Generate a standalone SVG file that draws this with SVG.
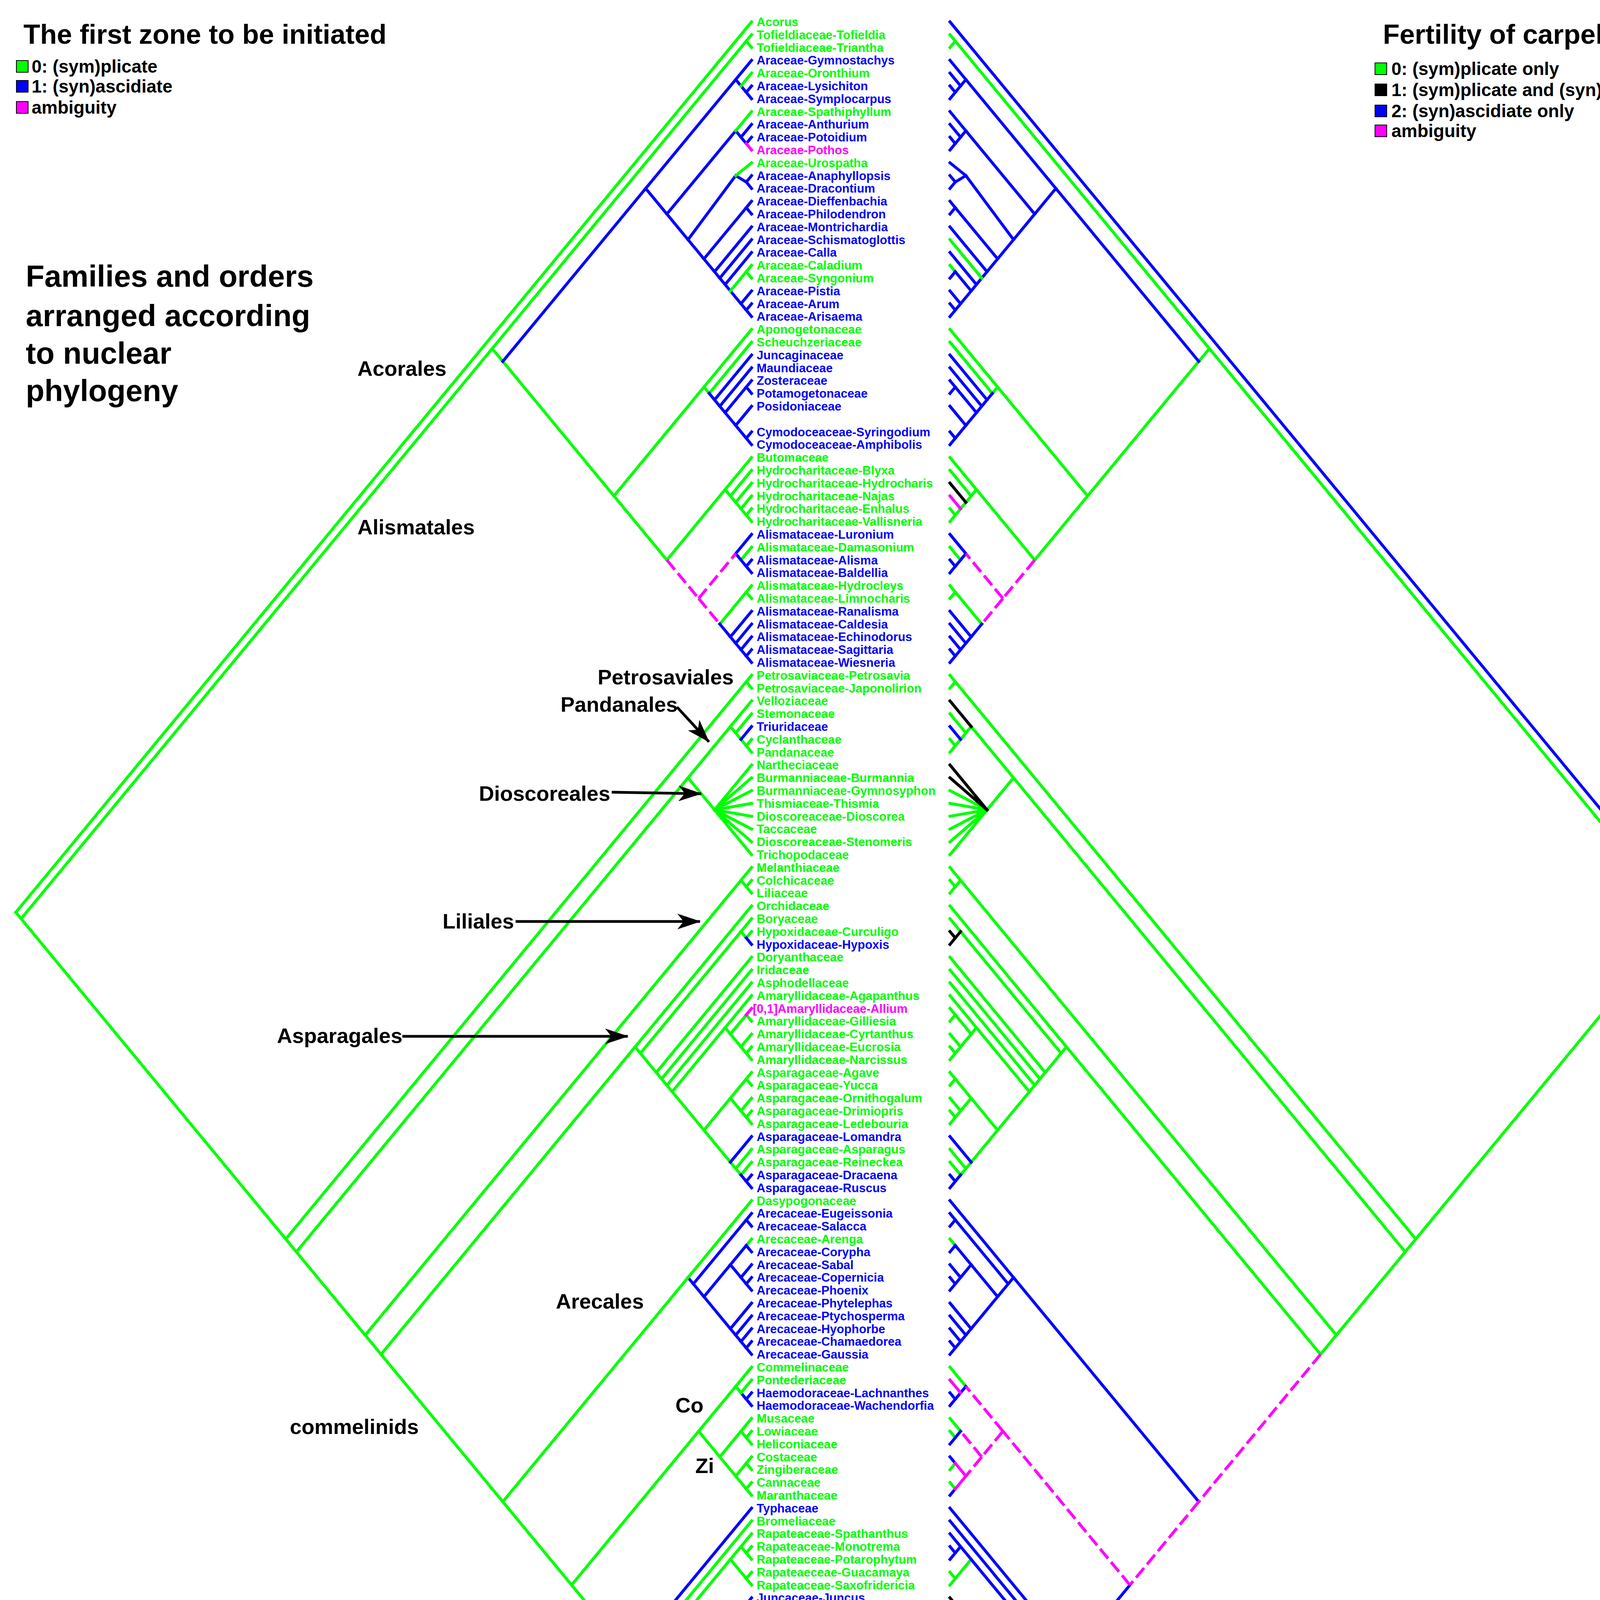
<svg xmlns="http://www.w3.org/2000/svg" xmlns:xlink="http://www.w3.org/1999/xlink" width="4370" height="4664" viewBox="0 0 4370 4664">
<style>
.s{fill:none;stroke-width:7.5;stroke-linecap:square;stroke-linejoin:round}
.d{fill:none;stroke:#ff00ff;stroke-width:7.5;stroke-dasharray:32 12}
.G{stroke:#00ff00}.B{stroke:#0000ff}.M{stroke:#ff00ff}.K{stroke:#000}
text{font-family:"Liberation Sans",Arial,sans-serif;font-weight:bold}
.t{font-size:31px}
.g{fill:#00ff00}.b{fill:#0000ff}.m{fill:#ff00ff}
.o{font-size:54px;fill:#000}
.h{font-size:70px;fill:#000}
.l{font-size:46px;fill:#000}
.f{font-size:78px;fill:#000}
.ar{fill:none;stroke:#000;stroke-width:7}
</style>
<defs>
<marker id="ah" markerUnits="userSpaceOnUse" markerWidth="60" markerHeight="40" refX="58" refY="20" orient="auto"><path d="M0,0 L60,20 L0,40 L16,20 z" fill="#000"/></marker>
<path id="cg" class="s G" d="M40.5 2335.6L54.1 2352M54.1 2352L1260 892.4M54.1 2352L731.6 3172M1260 892.4L1910.5 105.2M1910.5 105.2L1924 88.8M1910.5 105.2L1924 121.6M1260 892.4L1287.2 925.2M1287.2 925.2L1571.7 1269.6M1910.5 695.6L1924 679.2M1571.7 1269.6L1802.1 990.8M1802.1 990.8L1924 843.2M1802.1 990.8L1815.6 1007.2M1815.6 1007.2L1924 876M1571.7 1269.6L1707.2 1433.6M1707.2 1433.6L1856.3 1253.2M1856.3 1253.2L1924 1171.2M1856.3 1253.2L1869.8 1269.6M1869.8 1269.6L1924 1204M1869.8 1269.6L1883.4 1286M1883.4 1286L1896.9 1302.4M1896.9 1302.4L1910.5 1318.8M1910.5 1318.8L1924 1302.4M1910.5 1318.8L1924 1335.2M1896.9 1433.6L1924 1400.8M1842.7 1597.6L1910.5 1515.6M1910.5 1515.6L1924 1499.2M1910.5 1515.6L1924 1532M731.6 3172L1910.5 1745.2M1910.5 1745.2L1924 1728.8M1910.5 1745.2L1924 1761.6M731.6 3172L758.7 3204.8M758.7 3204.8L1761.4 1991.2M1761.4 1991.2L1869.8 1860M1869.8 1860L1883.4 1876.4M1883.4 1876.4L1924 1827.2M1883.4 1876.4L1896.9 1892.8M1896.9 1892.8L1910.5 1909.2M1910.5 1909.2L1924 1892.8M1910.5 1909.2L1924 1925.6M1761.4 1991.2L1829.2 2073.2M1829.2 2073.2L1924 2024M1829.2 2073.2L1924 2056.8M1829.2 2073.2L1924 2089.6M1829.2 2073.2L1924 2122.4M1829.2 2073.2L1924 2155.2M1829.2 2073.2L1924 2188M758.7 3204.8L934.9 3418M934.9 3418L1896.9 2253.6M1896.9 2253.6L1924 2220.8M1896.9 2253.6L1910.5 2270M1910.5 2270L1924 2253.6M1910.5 2270L1924 2286.4M934.9 3418L975.5 3467.2M975.5 3467.2L1625.9 2680M1625.9 2680L1924 2319.2M1625.9 2680L1639.5 2696.4M1639.5 2696.4L1896.9 2384.8M1896.9 2384.8L1924 2352M1639.5 2696.4L1680.1 2745.6M1680.1 2745.6L1924 2450.4M1680.1 2745.6L1693.7 2762M1693.7 2762L1924 2483.2M1693.7 2762L1707.2 2778.4M1707.2 2778.4L1924 2516M1707.2 2778.4L1720.8 2794.8M1720.8 2794.8L1856.3 2630.8M1856.3 2630.8L1924 2548.8M1856.3 2630.8L1869.8 2647.2M1869.8 2647.2L1910.5 2598M1910.5 2598L1924 2614.4M1869.8 2647.2L1896.9 2680M1896.9 2680L1924 2647.2M1896.9 2680L1910.5 2696.4M1910.5 2696.4L1924 2680M1910.5 2696.4L1924 2712.8M1720.8 2794.8L1802.1 2893.2M1802.1 2893.2L1869.8 2811.2M1869.8 2811.2L1910.5 2762M1910.5 2762L1924 2745.6M1910.5 2762L1924 2778.4M1869.8 2811.2L1896.9 2844M1896.9 2844L1924 2811.2M1896.9 2844L1910.5 2860.4M1910.5 2860.4L1924 2844M1910.5 2860.4L1924 2876.8M1802.1 2893.2L1869.8 2975.2M1869.8 2975.2L1883.4 2991.6M1883.4 2991.6L1924 2942.4M1883.4 2991.6L1896.9 3008M1896.9 3008L1924 2975.2M1910.5 3188.4L1924 3172M1883.4 3549.2L1924 3500M1896.9 3664L1924 3631.2M1910.5 3680.4L1924 3664M1910.5 3746L1924 3762.4M1910.5 3811.6L1924 3795.2M1869.8 3992L1910.5 4041.2M1910.5 4041.2L1924 4024.8M1910.5 4041.2L1924 4057.6M1761.4 4418.4L1924 4221.6M1910.5 4336.4L1924 4352.8"/>
<path id="cb" class="s B" d="M1287.2 925.2L1653 482.4M1653 482.4L1883.4 203.6M1883.4 203.6L1924 154.4M1883.4 203.6L1896.9 220M1896.9 220L1910.5 236.4M1910.5 236.4L1924 220M1910.5 236.4L1924 252.8M1653 482.4L1707.2 548M1707.2 548L1883.4 334.8M1883.4 334.8L1896.9 351.2M1896.9 351.2L1924 318.4M1896.9 351.2L1910.5 367.6M1910.5 367.6L1924 351.2M1707.2 548L1761.4 613.6M1761.4 613.6L1883.4 449.6M1883.4 449.6L1910.5 466M1910.5 466L1924 449.6M1910.5 466L1924 482.4M1761.4 613.6L1802.1 662.8M1802.1 662.8L1910.5 531.6M1910.5 531.6L1924 515.2M1910.5 531.6L1924 548M1802.1 662.8L1829.2 695.6M1829.2 695.6L1924 580.8M1829.2 695.6L1842.7 712M1842.7 712L1856.3 728.4M1856.3 728.4L1924 646.4M1856.3 728.4L1869.8 744.8M1869.8 744.8L1896.9 777.6M1896.9 777.6L1924 744.8M1896.9 777.6L1910.5 794M1910.5 794L1924 777.6M1910.5 794L1924 810.4M1815.6 1007.2L1829.2 1023.6M1829.2 1023.6L1924 908.8M1829.2 1023.6L1842.7 1040M1842.7 1040L1924 941.6M1842.7 1040L1856.3 1056.4M1856.3 1056.4L1910.5 990.8M1910.5 990.8L1924 974.4M1910.5 990.8L1924 1007.2M1856.3 1056.4L1883.4 1089.2M1883.4 1089.2L1924 1040M1883.4 1089.2L1910.5 1122M1910.5 1122L1924 1105.6M1910.5 1122L1924 1138.4M1883.4 1417.2L1924 1368M1883.4 1417.2L1896.9 1433.6M1896.9 1433.6L1910.5 1450M1910.5 1450L1924 1433.6M1910.5 1450L1924 1466.4M1842.7 1597.6L1869.8 1630.4M1869.8 1630.4L1924 1564.8M1869.8 1630.4L1883.4 1646.8M1883.4 1646.8L1924 1597.6M1883.4 1646.8L1896.9 1663.2M1896.9 1663.2L1924 1630.4M1896.9 1663.2L1910.5 1679.6M1910.5 1679.6L1924 1663.2M1910.5 1679.6L1924 1696M1896.9 1892.8L1924 1860M1869.8 2975.2L1924 2909.6M1896.9 3008L1910.5 3024.4M1910.5 3024.4L1924 3008M1910.5 3024.4L1924 3040.8M1761.4 3270.4L1775 3286.8M1775 3286.8L1910.5 3122.8M1910.5 3122.8L1924 3106.4M1910.5 3122.8L1924 3139.2M1775 3286.8L1802.1 3319.6M1802.1 3319.6L1869.8 3237.6M1869.8 3237.6L1910.5 3188.4M1910.5 3188.4L1924 3204.8M1869.8 3237.6L1896.9 3270.4M1896.9 3270.4L1924 3237.6M1896.9 3270.4L1910.5 3286.8M1910.5 3286.8L1924 3270.4M1910.5 3286.8L1924 3303.2M1802.1 3319.6L1869.8 3401.6M1869.8 3401.6L1924 3336M1869.8 3401.6L1883.4 3418M1883.4 3418L1924 3368.8M1883.4 3418L1896.9 3434.4M1896.9 3434.4L1924 3401.6M1896.9 3434.4L1910.5 3450.8M1910.5 3450.8L1924 3434.4M1910.5 3450.8L1924 3467.2M1896.9 3565.6L1910.5 3582M1910.5 3582L1924 3565.6M1910.5 3582L1924 3598.4M1612.4 4238L1924 3860.8M1707.2 4352.8L1883.4 4139.6M1883.4 4139.6L1910.5 4106.8M1910.5 4106.8L1924 4123.2M1883.4 4139.6L1910.5 4172.4M1910.5 4172.4L1924 4156M1761.4 4418.4L1775 4434.8M1775 4434.8L1883.4 4303.6M1883.4 4303.6L1924 4254.4M1883.4 4303.6L1896.9 4320M1775 4434.8L1829.2 4500.4M1829.2 4500.4L1896.9 4418.4M1896.9 4418.4L1924 4385.6M1896.9 4418.4L1910.5 4434.8M1910.5 4434.8L1924 4451.2M1829.2 4500.4L1869.8 4549.6M1869.8 4549.6L1910.5 4500.4M1910.5 4500.4L1924 4484M1910.5 4500.4L1924 4516.8M1869.8 4549.6L1896.9 4582.4M1896.9 4582.4L1924 4549.6M1896.9 4582.4L1910.5 4598.8M1910.5 4598.8L1924 4582.4M1910.5 4598.8L1924 4615.2"/>
<path id="cd" class="d" d="M1707.2 1433.6L1788.5 1532M1788.5 1532L1883.4 1417.2M1788.5 1532L1842.7 1597.6"/>
</defs>
<rect width="4370" height="4664" fill="#fff"/>

<g id="legend-left">
<text class="h" x="60" y="112">The first zone to be initiated</text>
<rect x="42" y="155" width="30" height="30" fill="#00ff00" stroke="#000" stroke-width="2"/>
<text class="l" x="81" y="186">0: (sym)plicate</text>
<rect x="42" y="206" width="30" height="30" fill="#0000ff" stroke="#000" stroke-width="2"/>
<text class="l" x="81" y="237">1: (syn)ascidiate</text>
<rect x="42" y="260" width="30" height="30" fill="#ff00ff" stroke="#000" stroke-width="2"/>
<text class="l" x="81" y="291">ambiguity</text>
</g>
<g id="legend-right">
<text class="h" x="4322" y="112" text-anchor="end">Fertility of carpel zones</text>
<rect x="3520" y="161" width="30" height="30" fill="#00ff00" stroke="#000" stroke-width="2"/>
<text class="l" x="3562" y="192">0: (sym)plicate only</text>
<rect x="3520" y="215" width="30" height="30" fill="#000" stroke="#000" stroke-width="2"/>
<text class="l" x="3562" y="246">1: (sym)plicate and (syn)ascidiate</text>
<rect x="3520" y="269" width="30" height="30" fill="#0000ff" stroke="#000" stroke-width="2"/>
<text class="l" x="3562" y="300">2: (syn)ascidiate only</text>
<rect x="3520" y="320" width="30" height="30" fill="#ff00ff" stroke="#000" stroke-width="2"/>
<text class="l" x="3562" y="351">ambiguity</text>
</g>
<g id="caption">
<text class="f" x="66" y="734">Families and orders</text>
<text class="f" x="66" y="835">arranged according</text>
<text class="f" x="66" y="931">to nuclear</text>
<text class="f" x="66" y="1027">phylogeny</text>
<text class="o" x="619" y="4397">Co = Commelinales</text>
<text class="o" x="619" y="4463">Zi = Zingiberales</text>
</g>

<g id="connectors">
<g id="tree-left">
<use xlink:href="#cg" href="#cg"/>
<use xlink:href="#cb" href="#cb"/>
<use xlink:href="#cd" href="#cd"/>
<path class="s G" d="M40.5 2335.6L1924 56M1896.9 220L1924 187.2M1883.4 334.8L1924 285.6M1883.4 449.6L1924 416.8M1869.8 744.8L1910.5 695.6M1910.5 695.6L1924 712M1883.4 1286L1924 1236.8M1896.9 1302.4L1924 1269.6M1869.8 1860L1924 1794.4M1829.2 2073.2L1924 1958.4M1829.2 2073.2L1924 1991.2M1896.9 2384.8L1910.5 2401.2M1910.5 2401.2L1924 2384.8M975.5 3467.2L1287.2 3844.4M1287.2 3844.4L1761.4 3270.4M1761.4 3270.4L1924 3073.6M1287.2 3844.4L1463.3 4057.6M1463.3 4057.6L1788.5 3664M1788.5 3664L1883.4 3549.2M1883.4 3549.2L1896.9 3565.6M1896.9 3565.6L1924 3532.8M1788.5 3664L1842.7 3729.6M1842.7 3729.6L1896.9 3664M1896.9 3664L1910.5 3680.4M1910.5 3680.4L1924 3696.8M1842.7 3729.6L1883.4 3778.8M1883.4 3778.8L1910.5 3746M1910.5 3746L1924 3729.6M1883.4 3778.8L1910.5 3811.6M1910.5 3811.6L1924 3828M1463.3 4057.6L1612.4 4238M1612.4 4238L1625.9 4254.4M1625.9 4254.4L1924 3893.6M1625.9 4254.4L1639.5 4270.8M1639.5 4270.8L1869.8 3992M1869.8 3992L1896.9 3959.2M1896.9 3959.2L1924 3926.4M1896.9 3959.2L1910.5 3975.6M1910.5 3975.6L1924 3959.2M1910.5 3975.6L1924 3992"/>
<path class="s M" d="M1910.5 367.6L1924 384M1910.5 2598L1924 2581.6M1896.9 4320L1924 4287.2M1910.5 4434.8L1924 4418.4"/>
<path class="s B" d="M1842.7 712L1924 613.6M1910.5 2401.2L1924 2417.6M1910.5 4106.8L1924 4090.4M1910.5 4172.4L1924 4188.8M1896.9 4320L1910.5 4336.4M1910.5 4336.4L1924 4320"/>
<path class="d" d="M1639.5 4270.8L1707.2 4352.8M1707.2 4352.8L1761.4 4418.4"/>
</g>
<g id="tree-right" transform="matrix(-1 0 0 1 4356 0)">
<use xlink:href="#cg" href="#cg"/>
<use xlink:href="#cb" href="#cb"/>
<use xlink:href="#cd" href="#cd"/>
<path class="s B" d="M40.5 2335.6L1924 56M1896.9 220L1924 187.2M1883.4 334.8L1924 285.6M1910.5 367.6L1924 384M1883.4 449.6L1924 416.8M1869.8 744.8L1910.5 695.6M1910.5 695.6L1924 712M1287.2 3844.4L1761.4 3270.4M1761.4 3270.4L1924 3073.6M1883.4 3549.2L1896.9 3565.6M1896.9 3664L1910.5 3680.4M1910.5 3680.4L1924 3696.8M1910.5 3746L1924 3729.6M1910.5 3811.6L1924 3828M1463.3 4057.6L1612.4 4238M1612.4 4238L1625.9 4254.4M1625.9 4254.4L1924 3893.6M1625.9 4254.4L1639.5 4270.8M1639.5 4270.8L1869.8 3992M1869.8 3992L1896.9 3959.2M1896.9 3959.2L1924 3926.4M1896.9 3959.2L1910.5 3975.6M1910.5 3975.6L1924 3959.2M1910.5 3975.6L1924 3992M1639.5 4270.8L1707.2 4352.8M1707.2 4352.8L1761.4 4418.4M1910.5 4434.8L1924 4418.4"/>
<path class="s G" d="M1842.7 712L1924 613.6M1910.5 2598L1924 2581.6"/>
<path class="s K" d="M1883.4 1286L1924 1236.8M1869.8 1860L1924 1794.4M1829.2 2073.2L1924 1958.4M1829.2 2073.2L1924 1991.2M1896.9 2384.8L1910.5 2401.2M1910.5 2401.2L1924 2384.8M1910.5 2401.2L1924 2417.6M1910.5 4106.8L1924 4090.4M1910.5 4172.4L1924 4188.8M1896.9 4320L1924 4287.2M1896.9 4320L1910.5 4336.4M1910.5 4336.4L1924 4320"/>
<path class="s M" d="M1896.9 1302.4L1924 1269.6M1896.9 3565.6L1924 3532.8M1883.4 3778.8L1910.5 3746M1883.4 3778.8L1910.5 3811.6"/>
<path class="d" d="M975.5 3467.2L1287.2 3844.4M1287.2 3844.4L1463.3 4057.6M1463.3 4057.6L1788.5 3664M1788.5 3664L1883.4 3549.2M1788.5 3664L1842.7 3729.6M1842.7 3729.6L1896.9 3664M1842.7 3729.6L1883.4 3778.8"/>
</g>
<g id="arrows">
<path class="ar" d="M1733 1810L1815 1899" marker-end="url(#ah)"/>
<path class="ar" d="M1566 2028L1795 2032" marker-end="url(#ah)"/>
<path class="ar" d="M1320 2359L1792 2359" marker-end="url(#ah)"/>
<path class="ar" d="M1030 2653L1607 2653" marker-end="url(#ah)"/>
</g>
</g>

<g id="order-labels">
<text class="o" x="915" y="962">Acorales</text>
<text class="o" x="915" y="1368">Alismatales</text>
<text class="o" x="1530" y="1752">Petrosaviales</text>
<text class="o" x="1435" y="1822">Pandanales</text>
<text class="o" x="1226" y="2050">Dioscoreales</text>
<text class="o" x="1133" y="2377">Liliales</text>
<text class="o" x="709" y="2670">Asparagales</text>
<text class="o" x="1423" y="3350">Arecales</text>
<text class="o" x="742" y="3671">commelinids</text>
<text class="o" x="1729" y="3616">Co</text>
<text class="o" x="1780" y="3771">Zi</text>
<text class="o" x="1372" y="4206">Poales</text>
</g>

<g id="taxa" class="t">
<text class="g" x="1937" y="67">Acorus</text>
<text class="g" x="1937" y="100">Tofieldiaceae-Tofieldia</text>
<text class="g" x="1937" y="133">Tofieldiaceae-Triantha</text>
<text class="b" x="1937" y="165">Araceae-Gymnostachys</text>
<text class="g" x="1937" y="198">Araceae-Oronthium</text>
<text class="b" x="1937" y="231">Araceae-Lysichiton</text>
<text class="b" x="1937" y="264">Araceae-Symplocarpus</text>
<text class="g" x="1937" y="297">Araceae-Spathiphyllum</text>
<text class="b" x="1937" y="329">Araceae-Anthurium</text>
<text class="b" x="1937" y="362">Araceae-Potoidium</text>
<text class="m" x="1937" y="395">Araceae-Pothos</text>
<text class="g" x="1937" y="428">Araceae-Urospatha</text>
<text class="b" x="1937" y="461">Araceae-Anaphyllopsis</text>
<text class="b" x="1937" y="493">Araceae-Dracontium</text>
<text class="b" x="1937" y="526">Araceae-Dieffenbachia</text>
<text class="b" x="1937" y="559">Araceae-Philodendron</text>
<text class="b" x="1937" y="592">Araceae-Montrichardia</text>
<text class="b" x="1937" y="625">Araceae-Schismatoglottis</text>
<text class="b" x="1937" y="657">Araceae-Calla</text>
<text class="g" x="1937" y="690">Araceae-Caladium</text>
<text class="g" x="1937" y="723">Araceae-Syngonium</text>
<text class="b" x="1937" y="756">Araceae-Pistia</text>
<text class="b" x="1937" y="789">Araceae-Arum</text>
<text class="b" x="1937" y="821">Araceae-Arisaema</text>
<text class="g" x="1937" y="854">Aponogetonaceae</text>
<text class="g" x="1937" y="887">Scheuchzeriaceae</text>
<text class="b" x="1937" y="920">Juncaginaceae</text>
<text class="b" x="1937" y="953">Maundiaceae</text>
<text class="b" x="1937" y="985">Zosteraceae</text>
<text class="b" x="1937" y="1018">Potamogetonaceae</text>
<text class="b" x="1937" y="1051">Posidoniaceae</text>
<text class="b" x="1937" y="1117">Cymodoceaceae-Syringodium</text>
<text class="b" x="1937" y="1149">Cymodoceaceae-Amphibolis</text>
<text class="g" x="1937" y="1182">Butomaceae</text>
<text class="g" x="1937" y="1215">Hydrocharitaceae-Blyxa</text>
<text class="g" x="1937" y="1248">Hydrocharitaceae-Hydrocharis</text>
<text class="g" x="1937" y="1281">Hydrocharitaceae-Najas</text>
<text class="g" x="1937" y="1313">Hydrocharitaceae-Enhalus</text>
<text class="g" x="1937" y="1346">Hydrocharitaceae-Vallisneria</text>
<text class="b" x="1937" y="1379">Alismataceae-Luronium</text>
<text class="g" x="1937" y="1412">Alismataceae-Damasonium</text>
<text class="b" x="1937" y="1445">Alismataceae-Alisma</text>
<text class="b" x="1937" y="1477">Alismataceae-Baldellia</text>
<text class="g" x="1937" y="1510">Alismataceae-Hydrocleys</text>
<text class="g" x="1937" y="1543">Alismataceae-Limnocharis</text>
<text class="b" x="1937" y="1576">Alismataceae-Ranalisma</text>
<text class="b" x="1937" y="1609">Alismataceae-Caldesia</text>
<text class="b" x="1937" y="1641">Alismataceae-Echinodorus</text>
<text class="b" x="1937" y="1674">Alismataceae-Sagittaria</text>
<text class="b" x="1937" y="1707">Alismataceae-Wiesneria</text>
<text class="g" x="1937" y="1740">Petrosaviaceae-Petrosavia</text>
<text class="g" x="1937" y="1773">Petrosaviaceae-Japonolirion</text>
<text class="g" x="1937" y="1805">Velloziaceae</text>
<text class="g" x="1937" y="1838">Stemonaceae</text>
<text class="b" x="1937" y="1871">Triuridaceae</text>
<text class="g" x="1937" y="1904">Cyclanthaceae</text>
<text class="g" x="1937" y="1937">Pandanaceae</text>
<text class="g" x="1937" y="1969">Nartheciaceae</text>
<text class="g" x="1937" y="2002">Burmanniaceae-Burmannia</text>
<text class="g" x="1937" y="2035">Burmanniaceae-Gymnosyphon</text>
<text class="g" x="1937" y="2068">Thismiaceae-Thismia</text>
<text class="g" x="1937" y="2101">Dioscoreaceae-Dioscorea</text>
<text class="g" x="1937" y="2133">Taccaceae</text>
<text class="g" x="1937" y="2166">Dioscoreaceae-Stenomeris</text>
<text class="g" x="1937" y="2199">Trichopodaceae</text>
<text class="g" x="1937" y="2232">Melanthiaceae</text>
<text class="g" x="1937" y="2265">Colchicaceae</text>
<text class="g" x="1937" y="2297">Liliaceae</text>
<text class="g" x="1937" y="2330">Orchidaceae</text>
<text class="g" x="1937" y="2363">Boryaceae</text>
<text class="g" x="1937" y="2396">Hypoxidaceae-Curculigo</text>
<text class="b" x="1937" y="2429">Hypoxidaceae-Hypoxis</text>
<text class="g" x="1937" y="2461">Doryanthaceae</text>
<text class="g" x="1937" y="2494">Iridaceae</text>
<text class="g" x="1937" y="2527">Asphodellaceae</text>
<text class="g" x="1937" y="2560">Amaryllidaceae-Agapanthus</text>
<text class="m" x="1927" y="2593">[0,1]Amaryllidaceae-Allium</text>
<text class="g" x="1937" y="2625">Amaryllidaceae-Gilliesia</text>
<text class="g" x="1937" y="2658">Amaryllidaceae-Cyrtanthus</text>
<text class="g" x="1937" y="2691">Amaryllidaceae-Eucrosia</text>
<text class="g" x="1937" y="2724">Amaryllidaceae-Narcissus</text>
<text class="g" x="1937" y="2757">Asparagaceae-Agave</text>
<text class="g" x="1937" y="2789">Asparagaceae-Yucca</text>
<text class="g" x="1937" y="2822">Asparagaceae-Ornithogalum</text>
<text class="g" x="1937" y="2855">Asparagaceae-Drimiopris</text>
<text class="g" x="1937" y="2888">Asparagaceae-Ledebouria</text>
<text class="b" x="1937" y="2921">Asparagaceae-Lomandra</text>
<text class="g" x="1937" y="2953">Asparagaceae-Asparagus</text>
<text class="g" x="1937" y="2986">Asparagaceae-Reineckea</text>
<text class="b" x="1937" y="3019">Asparagaceae-Dracaena</text>
<text class="b" x="1937" y="3052">Asparagaceae-Ruscus</text>
<text class="g" x="1937" y="3085">Dasypogonaceae</text>
<text class="b" x="1937" y="3117">Arecaceae-Eugeissonia</text>
<text class="b" x="1937" y="3150">Arecaceae-Salacca</text>
<text class="g" x="1937" y="3183">Arecaceae-Arenga</text>
<text class="b" x="1937" y="3216">Arecaceae-Corypha</text>
<text class="b" x="1937" y="3249">Arecaceae-Sabal</text>
<text class="b" x="1937" y="3281">Arecaceae-Copernicia</text>
<text class="b" x="1937" y="3314">Arecaceae-Phoenix</text>
<text class="b" x="1937" y="3347">Arecaceae-Phytelephas</text>
<text class="b" x="1937" y="3380">Arecaceae-Ptychosperma</text>
<text class="b" x="1937" y="3413">Arecaceae-Hyophorbe</text>
<text class="b" x="1937" y="3445">Arecaceae-Chamaedorea</text>
<text class="b" x="1937" y="3478">Arecaceae-Gaussia</text>
<text class="g" x="1937" y="3511">Commelinaceae</text>
<text class="g" x="1937" y="3544">Pontederiaceae</text>
<text class="b" x="1937" y="3577">Haemodoraceae-Lachnanthes</text>
<text class="b" x="1937" y="3609">Haemodoraceae-Wachendorfia</text>
<text class="g" x="1937" y="3642">Musaceae</text>
<text class="g" x="1937" y="3675">Lowiaceae</text>
<text class="g" x="1937" y="3708">Heliconiaceae</text>
<text class="g" x="1937" y="3741">Costaceae</text>
<text class="g" x="1937" y="3773">Zingiberaceae</text>
<text class="g" x="1937" y="3806">Cannaceae</text>
<text class="g" x="1937" y="3839">Maranthaceae</text>
<text class="b" x="1937" y="3872">Typhaceae</text>
<text class="g" x="1937" y="3905">Bromeliaceae</text>
<text class="g" x="1937" y="3937">Rapateaceae-Spathanthus</text>
<text class="g" x="1937" y="3970">Rapateaceae-Monotrema</text>
<text class="g" x="1937" y="4003">Rapateaceae-Potarophytum</text>
<text class="g" x="1937" y="4036">Rapateaeceae-Guacamaya</text>
<text class="g" x="1937" y="4069">Rapateaceae-Saxofridericia</text>
<text class="b" x="1937" y="4101">Juncaceae-Juncus</text>
<text class="b" x="1937" y="4134">Cyperaceae</text>
<text class="b" x="1937" y="4167">Thurniaceae-Thurnia</text>
<text class="b" x="1937" y="4200">Thurniaceae-Prionium</text>
<text class="g" x="1937" y="4233">Mayacaceae</text>
<text class="b" x="1937" y="4265">Eriocaulaceae</text>
<text class="m" x="1927" y="4298">[0,1]Xyridaceae-Xyris</text>
<text class="b" x="1937" y="4331">Xyridaceae-Abolboda</text>
<text class="g" x="1937" y="4364">Xyridaceae-Orectanthe</text>
<text class="b" x="1937" y="4397">Poaceae</text>
<text class="m" x="1937" y="4429">Ecdeiocoleaceae</text>
<text class="b" x="1937" y="4462">Joinvilleaceae</text>
<text class="b" x="1937" y="4495">Restionaceae-Restionoideae</text>
<text class="b" x="1937" y="4528">Restionaceae-Centrolepidoideae</text>
<text class="b" x="1937" y="4561">Restionaceae-Anarthria</text>
<text class="b" x="1937" y="4593">Restionaceae-Lyginia</text>
<text class="b" x="1937" y="4626">Restionaceae-Hopkinsia</text>
</g>
</svg>
